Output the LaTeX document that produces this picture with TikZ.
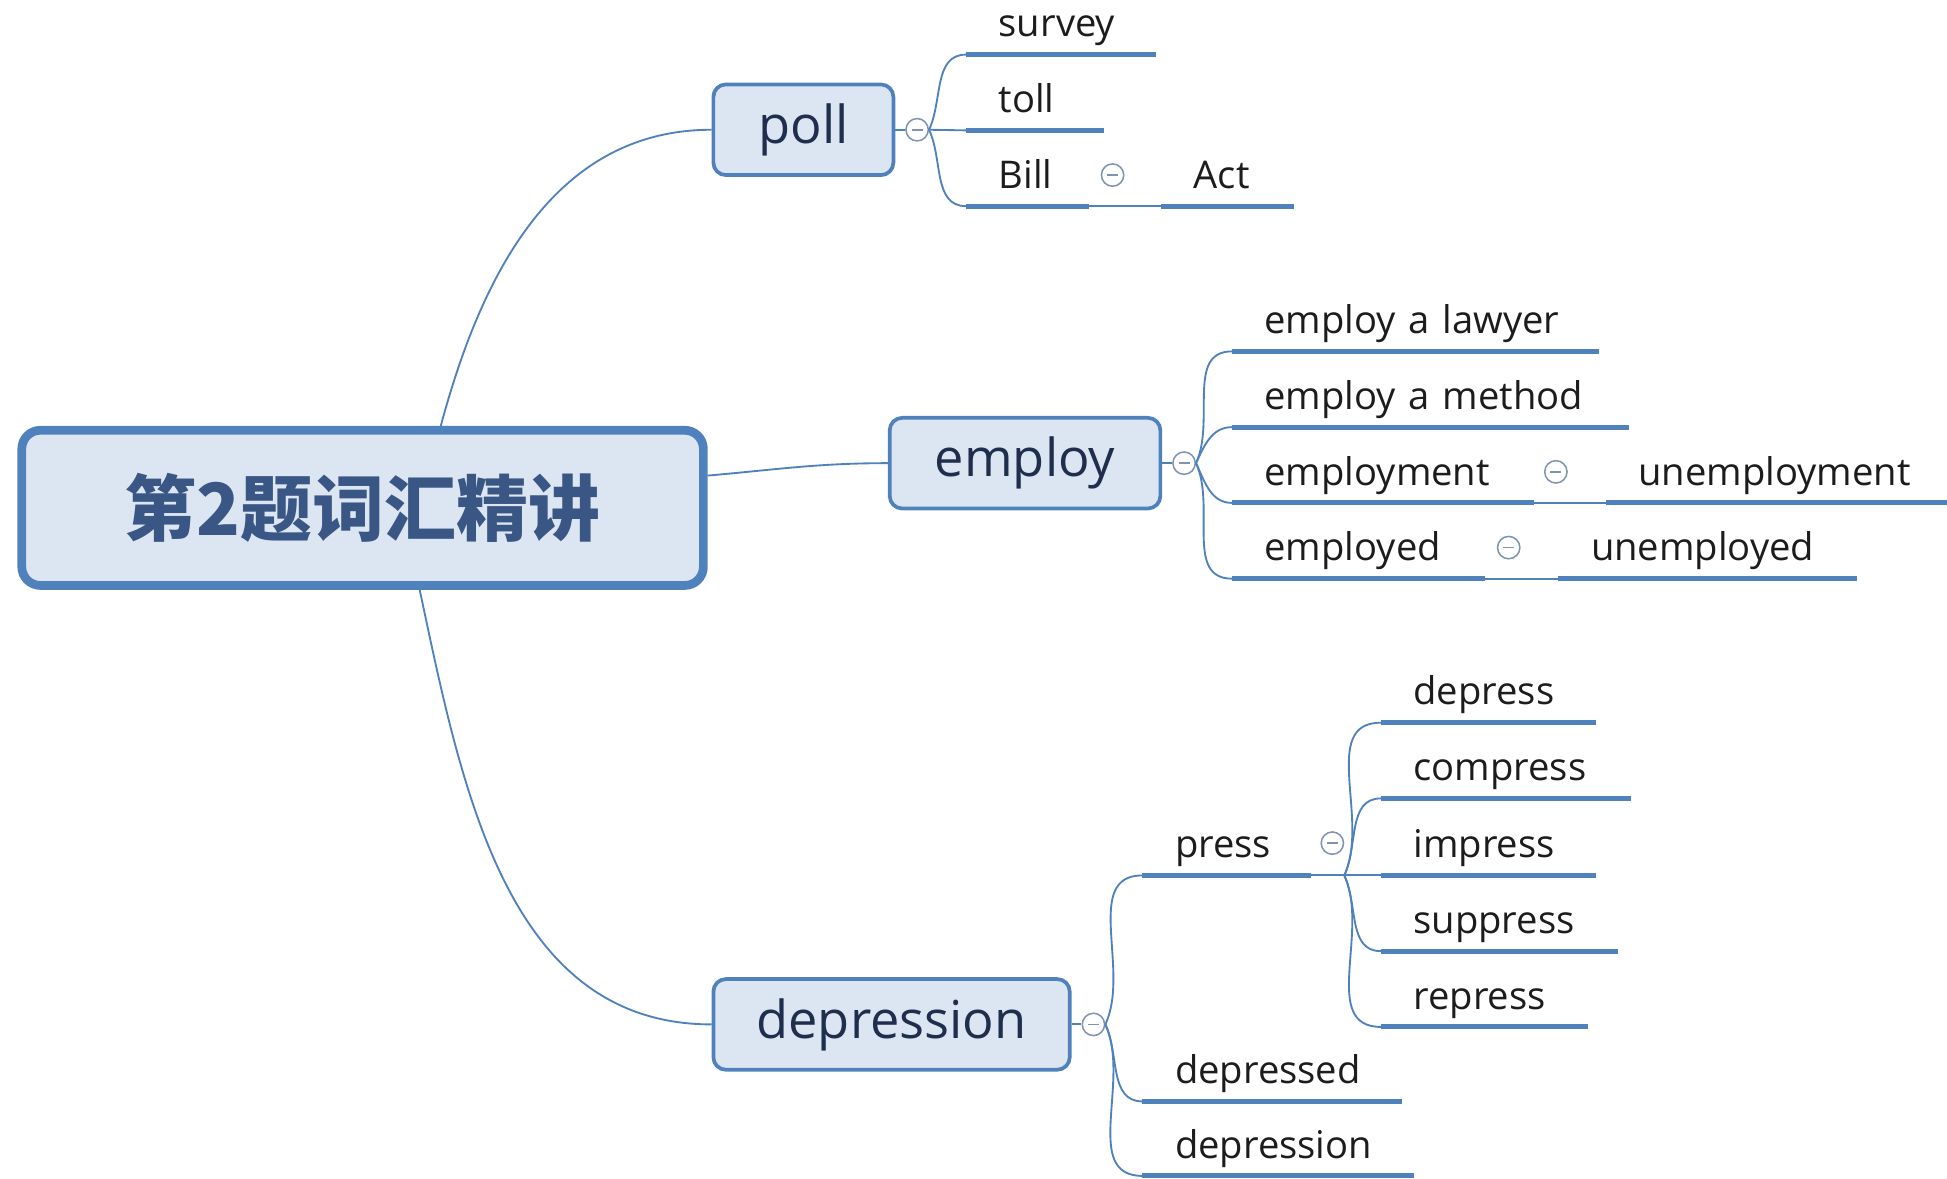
\documentclass[tikz,border=0pt]{standalone}
\usepackage{fontspec}
\setmainfont{Open Sans}
\newfontfamily\cjk{Noto Sans CJK SC}
\usetikzlibrary{positioning}

\definecolor{lineblue}{RGB}{79,129,189}
\definecolor{boxfill}{RGB}{220,230,242}
\definecolor{boxtext}{RGB}{30,46,76}
\definecolor{roottext}{RGB}{58,86,132}
\definecolor{foldgray}{RGB}{128,148,178}
\definecolor{leaftext}{RGB}{28,28,28}

\tikzset{leaf/.style={anchor=south west, inner xsep=0pt, inner ysep=0.28cm,
    text depth=0pt, text width={(#1)*0.02cm}, align=left, text=leaftext,
    font=\fontsize{17.5}{21}\selectfont, execute at begin node=\hspace*{0.52cm}}}

\begin{document}
\begin{tikzpicture}[x=0.02cm,y=-0.02cm]
\tikzstyle{topic}=[draw=lineblue,fill=boxfill,rounded corners=0.2cm,line width=1.7pt,
    text=boxtext,font=\fontsize{24}{28}\selectfont,minimum height=1.46cm]
\tikzstyle{central}=[topic,line width=4pt,rounded corners=0.3cm,text=roottext,
    font=\cjk\bfseries\fontsize{33}{38}\selectfont,minimum width=10.98cm,minimum height=2.5cm]
\tikzstyle{fold}=[circle,draw=foldgray,fill=white,line width=0.7pt,minimum size=0.36cm,inner sep=0pt,
    path picture={\draw[foldgray,line width=0.7pt] ([xshift=-0.09cm]path picture bounding box.center)
    -- ([xshift=0.09cm]path picture bounding box.center);}]
\tikzstyle{link}=[draw=lineblue,line width=0.85pt]
\tikzstyle{uline}=[draw=lineblue,line width=0.08cm]
\useasboundingbox (0,0) rectangle (1568,949);

% main topics
\node[central] (root) at (292,409) {第2题词汇精讲};
\node[topic,minimum width=2.9cm] (poll) at (647,104.5) {poll};
\node[topic,minimum width=4.36cm] (employ) at (825.5,373) {employ};
\node[topic,minimum width=5.74cm] (depr) at (718,825) {depression};

\node[fold,right=0.16cm of poll] (f-poll) {};
\node[fold,right=0.16cm of employ] (f-employ) {};
\node[fold,right=0.16cm of depr] (f-depr) {};

% poll
\node[leaf=152] (survey) at (778,44) {survey};
\node[leaf=110] (toll) at (778,105) {toll};
\node[leaf=98] (bill) at (778,166) {Bill};
\node[leaf=106] (act) at (935,166) {Act};
\node[fold] (f-bill) at (896,141) {};

% employ
\node[leaf=295] (lawyer) at (992,283) {employ a lawyer};
\node[leaf=319] (method) at (992,344) {employ a method};
\node[leaf=243] (employment) at (992,405) {employment};
\node[leaf=275] (unemployment) at (1293,405) {unemployment};
\node[leaf=203] (employed) at (992,466) {employed};
\node[leaf=240] (unemployed) at (1255,466) {unemployed};
\node[fold] (f-employment) at (1253,380) {};
\node[fold] (f-employed) at (1215,441) {};

% depression
\node[leaf=135] (press) at (920,705) {press};
\node[leaf=173] (depress) at (1112,582) {depress};
\node[leaf=201] (compress) at (1112,643) {compress};
\node[leaf=173] (impress) at (1112,705) {impress};
\node[leaf=190] (suppress) at (1112,766) {suppress};
\node[leaf=166] (repress) at (1112,827) {repress};
\node[leaf=208] (depressed) at (920,887) {depressed};
\node[leaf=218] (depression) at (920,947) {depression};
\node[fold] (f-press) at (1073,679) {};
\coordinate (hub) at (f-press.east |- press.south east);

\foreach \n in {survey,toll,bill,act,lawyer,method,employment,unemployment,employed,
    unemployed,press,depress,compress,impress,suppress,repress,depressed,depression}
  \draw[uline] (\n.south west) -- (\n.south east);

% connectors
\draw[link] ([xshift=1.26cm]root.north) to[out=75,in=180] (poll.west);
\draw[link] ([yshift=0.52cm]root.east) to[out=5,in=180] (employ.west);
\draw[link] ([xshift=0.92cm]root.south) to[out=-78,in=180] (depr.west);

\draw[link] (poll.east) -- (f-poll);
\draw[link] (f-poll.east) to[out=65,in=180] (survey.south west);
\draw[link] (f-poll.east) -- (toll.south west);
\draw[link] (f-poll.east) to[out=-65,in=180] (bill.south west);
\draw[link] (bill.south east) -- (act.south west);

\draw[link] (employ.east) -- (f-employ);
\draw[link] (f-employ.east) to[out=65,in=180] (lawyer.south west);
\draw[link] (f-employ.east) to[out=65,in=180] (method.south west);
\draw[link] (f-employ.east) to[out=-65,in=180] (employment.south west);
\draw[link] (f-employ.east) to[out=-65,in=180] (employed.south west);
\draw[link] (employment.south east) -- (unemployment.south west);
\draw[link] (employed.south east) -- (unemployed.south west);

\draw[link] (depr.east) -- (f-depr);
\draw[link] (f-depr.east) to[out=65,in=180] (press.south west);
\draw[link] (f-depr.east) to[out=-65,in=180] (depressed.south west);
\draw[link] (f-depr.east) to[out=-65,in=180] (depression.south west);
\draw[link] (press.south east) -- (impress.south west);
\draw[link] (hub) to[out=65,in=180] (depress.south west);
\draw[link] (hub) to[out=65,in=180] (compress.south west);
\draw[link] (hub) to[out=-65,in=180] (suppress.south west);
\draw[link] (hub) to[out=-65,in=180] (repress.south west);
\end{tikzpicture}
\end{document}
